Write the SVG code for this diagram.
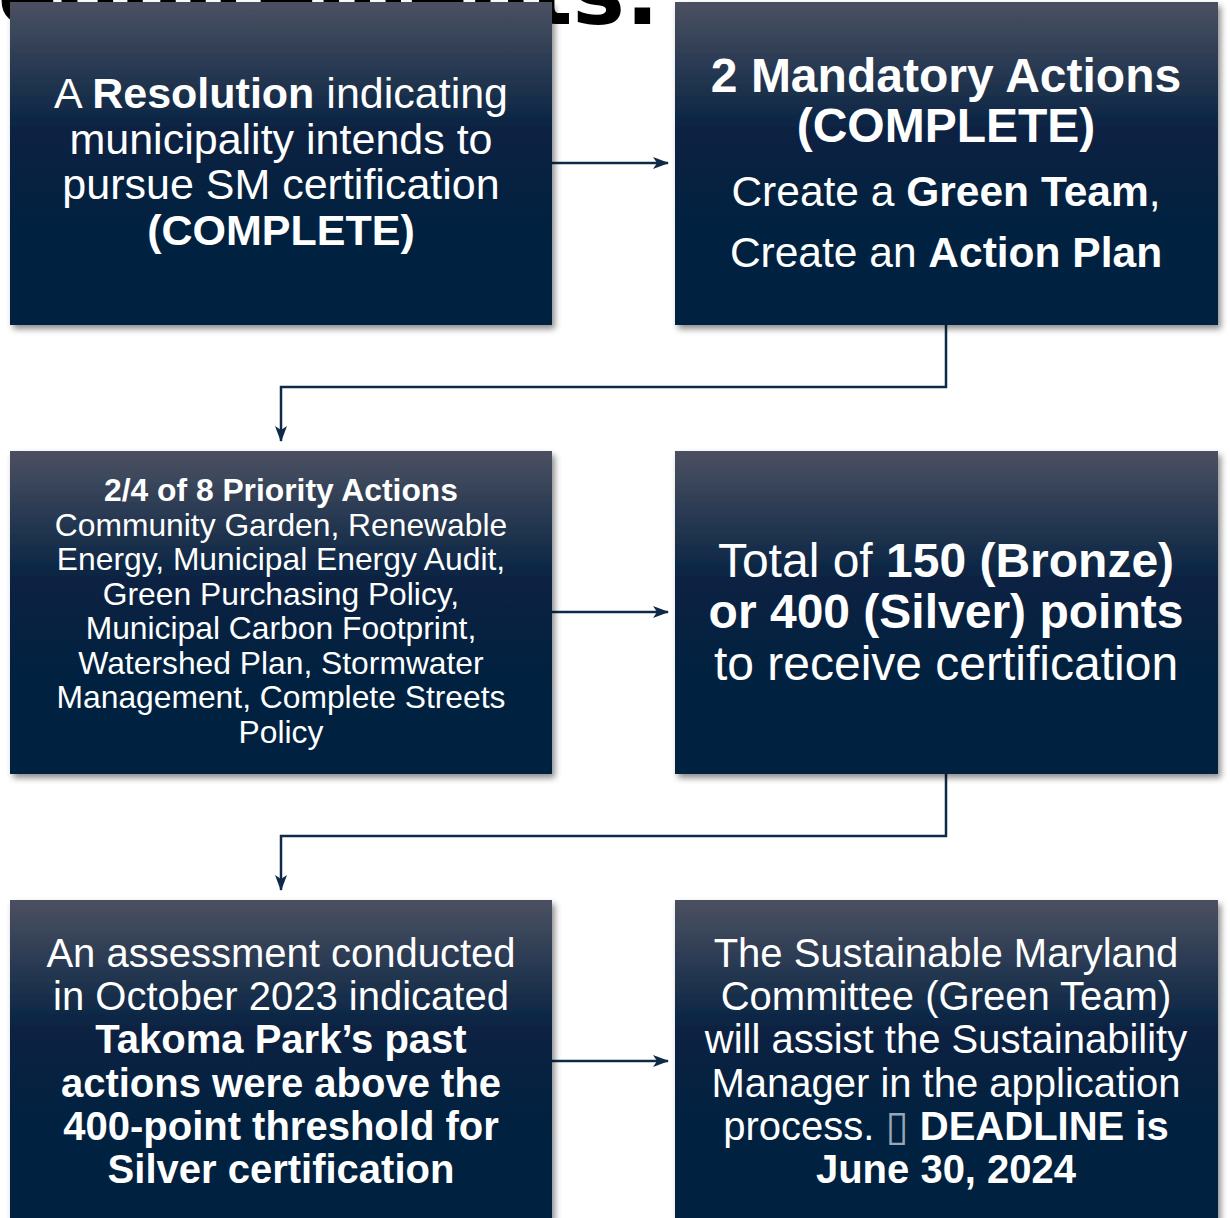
<svg xmlns="http://www.w3.org/2000/svg" width="1230" height="1218" viewBox="0 0 1230 1218">
  <defs>
    <linearGradient id="boxFill" x1="0" y1="0" x2="0" y2="1">
      <stop offset="0" stop-color="#4b5161"/>
      <stop offset="0.18" stop-color="#2c3c54"/>
      <stop offset="0.4" stop-color="#072342"/>
      <stop offset="1" stop-color="#05213f"/>
    </linearGradient>
    <filter id="shadow" x="-5%" y="-5%" width="115%" height="115%">
      <feDropShadow dx="3" dy="4" stdDeviation="3" flood-color="#000" flood-opacity="0.45"/>
    </filter>
    <marker id="arrow" viewBox="0 0 16 12" markerWidth="16" markerHeight="12" refX="15" refY="6" orient="auto" markerUnits="userSpaceOnUse">
      <path d="M0,0 L16,6 L0,12 L4,6 Z" fill="#0f2a48"/>
    </marker>
    <style>
      .box { fill: url(#boxFill); filter: url(#shadow); }
      .t { font-family: "Liberation Sans", Arial, sans-serif; fill: #ffffff; text-anchor: middle; }
      .b { font-weight: bold; }
      .conn { fill: none; stroke: #0f2a48; stroke-width: 2.5; }
      .title { font-family: "DejaVu Sans", Verdana, sans-serif; font-weight: bold; font-size: 88px; fill: #000; text-anchor: end; }
      .glyph { font-family: "DejaVu Sans", sans-serif; font-weight: normal; fill: #9aa6b4; }
    </style>
  </defs>

  <rect width="1230" height="1218" fill="#ffffff"/>

  <!-- slide heading, mostly covered by the first row of boxes -->
  <text class="title" x="660" y="24">Requirements:</text>

  <!-- connectors -->
  <g id="connectors">
    <path class="conn" d="M552,163 H668" marker-end="url(#arrow)"/>
    <path class="conn" d="M946,325 V387 H281 V441" marker-end="url(#arrow)"/>
    <path class="conn" d="M552,612 H668" marker-end="url(#arrow)"/>
    <path class="conn" d="M946,774 V836 H281 V890" marker-end="url(#arrow)"/>
    <path class="conn" d="M552,1061 H668" marker-end="url(#arrow)"/>
  </g>

  <g id="resolution" class="t" font-size="43">
    <rect class="box" x="10" y="2" width="542" height="323"/>
    <text x="281" y="108">A <tspan class="b">Resolution</tspan> indicating</text>
    <text x="281" y="154">municipality intends to</text>
    <text x="281" y="199">pursue SM certification</text>
    <text x="281" y="245" class="b">(COMPLETE)</text>
  </g>

  <g id="mandatory-actions" class="t">
    <rect class="box" x="675" y="2" width="543" height="323"/>
    <text x="946" y="92" class="b" font-size="48">2 Mandatory Actions</text>
    <text x="946" y="142" class="b" font-size="48">(COMPLETE)</text>
    <text x="946" y="206" font-size="42.5">Create a <tspan class="b">Green Team</tspan>,</text>
    <text x="946" y="267" font-size="42.5">Create an <tspan class="b">Action Plan</tspan></text>
  </g>

  <g id="priority-actions" class="t" font-size="31.8">
    <rect class="box" x="10" y="451" width="542" height="323"/>
    <text x="281" y="501" class="b">2/4 of 8 Priority Actions</text>
    <text x="281" y="536">Community Garden, Renewable</text>
    <text x="281" y="570">Energy, Municipal Energy Audit,</text>
    <text x="281" y="605">Green Purchasing Policy,</text>
    <text x="281" y="639">Municipal Carbon Footprint,</text>
    <text x="281" y="674">Watershed Plan, Stormwater</text>
    <text x="281" y="708">Management, Complete Streets</text>
    <text x="281" y="743">Policy</text>
  </g>

  <g id="points-total" class="t" font-size="48">
    <rect class="box" x="675" y="451" width="543" height="323"/>
    <text x="946" y="577">Total of <tspan class="b">150 (Bronze)</tspan></text>
    <text x="946" y="628" class="b">or 400 (Silver) points</text>
    <text x="946" y="680">to receive certification</text>
  </g>

  <g id="assessment" class="t" font-size="40">
    <rect class="box" x="10" y="900" width="542" height="323"/>
    <text x="281" y="967">An assessment conducted</text>
    <text x="281" y="1010">in October 2023 indicated</text>
    <text x="281" y="1053" class="b">Takoma Park’s past</text>
    <text x="281" y="1097" class="b">actions were above the</text>
    <text x="281" y="1140" class="b">400-point threshold for</text>
    <text x="281" y="1183" class="b">Silver certification</text>
  </g>

  <g id="application" class="t" font-size="40">
    <rect class="box" x="675" y="900" width="543" height="323"/>
    <text x="946" y="967">The Sustainable Maryland</text>
    <text x="946" y="1010">Committee (Green Team)</text>
    <text x="946" y="1053">will assist the Sustainability</text>
    <text x="946" y="1097">Manager in the application</text>
    <text x="946" y="1140">process. <tspan class="glyph" font-size="42">▯</tspan> <tspan class="b">DEADLINE is</tspan></text>
    <text x="946" y="1183" class="b">June 30, 2024</text>
  </g>
</svg>
